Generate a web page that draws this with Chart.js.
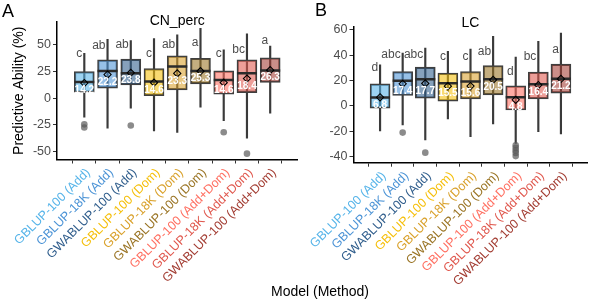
<!DOCTYPE html>
<html>
<head>
<meta charset="utf-8">
<script src="https://cdn.jsdelivr.net/npm/chart.js@4.4.0/dist/chart.umd.min.js"></script>
<style>
    body { margin: 0; background: #fff; font-family: "Liberation Sans", Arial, sans-serif; }
    #wrap { position: relative; width: 600px; height: 301px; overflow: hidden; }
    .pane { position: absolute; top: 0; height: 301px; }
    #xTitle { position: absolute; left: 220px; top: 284px; width: 200px; text-align: center;
              font-size: 14px; line-height: 14px; color: #000; white-space: nowrap; }
</style>
</head>
<body>
<div id="wrap">
    <div class="pane" style="left:0;width:310px"><canvas id="chartA"></canvas></div>
    <div class="pane" style="left:310px;width:290px"><canvas id="chartB"></canvas></div>
    <div id="xTitle">Model (Method)</div>
</div>
<script>
// 模型类别
const categories = ['GBLUP-100 (Add)', 'GBLUP-18K (Add)', 'GWABLUP-100 (Add)',
    'GBLUP-100 (Dom)', 'GBLUP-18K (Dom)', 'GWABLUP-100 (Dom)',
    'GBLUP-100 (Add+Dom)', 'GBLUP-18K (Add+Dom)', 'GWABLUP-100 (Add+Dom)'];
const labelColors = ['#56b4e9', '#4b93d6', '#2f5d8c', '#f5bf0a', '#d9a12b', '#9a7424',
    '#ff6f61', '#e0584e', '#a33d33'];

// A: CN_perc
const cnLow = [-17.8, -28, -9.4, -30.6, -32, -8.4, -21, -37.5, -14];
const cnQ1 = [5.6, 9.4, 12.5, 2.5, 7.8, 13.4, 3.8, 5.3, 14.7];
const cnMedian = [15.3, 25.6, 23.4, 15.6, 29.7, 25.6, 17.2, 23.4, 26];
const cnQ3 = [25, 36, 36.6, 27.8, 39.7, 37.5, 25.6, 36, 38];
const cnHigh = [42, 55.3, 54, 56, 59.4, 65.6, 45.3, 60.3, 49];
const cnMean = [14.2, 22.2, 23.8, 14.6, 23.3, 25.3, 14.6, 18.4, 26.3];
const cnLetters = ['c', 'ab', 'ab', 'c', 'ab', 'a', 'c', 'bc', 'a'];
const cnLetterY = [39, 45.9, 46.9, 39, 46.9, 49, 39, 42.2, 50.6];
const cnOutliers = [[1, -24.5], [1, -27.5], [3, -25.6], [7, -32], [8, -52]];
const cnTicks = [-50, -25, 0, 25, 50];

// B: LC
const lcLow = [-19.7, -15, -26.8, -10.3, -24.2, -14.2, -29.5, -20.3, -22];
const lcQ1 = [-1.8, 8.2, 6, 3.7, 5.5, 8.7, -3.2, 5.5, 10];
const lcMedian = [6.6, 19.7, 21, 17.9, 19.2, 21, 6.8, 17.1, 21.3];
const lcQ3 = [17.4, 27, 30.5, 25.8, 27, 31.8, 15.8, 26.6, 32.9];
const lcHigh = [32.4, 41.6, 45.5, 42.9, 44.7, 54.7, 38.4, 50.8, 57.3];
const lcMean = [6.8, 17.4, 17.7, 15.5, 15.6, 20.5, 4.8, 16.4, 21.2];
const lcLetters = ['d', 'abc', 'abc', 'c', 'c', 'ab', 'd', 'bc', 'a'];
const lcLetterY = [27.1, 37.6, 37.6, 35.8, 35.8, 40.3, 24.5, 36.3, 41.6];
const lcOutliers = [[2, -21], [3, -36.8], [7, -31], [7, -33], [7, -35], [7, -37], [7, -39.5]];
const lcTicks = [-40, -20, 0, 20, 40, 60];

const FONT = '"Liberation Sans", Arial, sans-serif';

function withAlpha(hex, a) {
    const n = parseInt(hex.slice(1), 16);
    return `rgba(${n >> 16}, ${(n >> 8) & 255}, ${n & 255}, ${a})`;
}

// 文字标注：均值、显著性字母、标题
const annotPlugin = {
    id: 'annot',
    afterDatasetsDraw(chart, args, opts) {
        const { ctx, chartArea } = chart;
        const x = chart.scales.x, y = chart.scales.y;
        ctx.save();
        ctx.font = `bold 10px ${FONT}`;
        ctx.fillStyle = '#fff';
        ctx.textAlign = 'center';
        ctx.textBaseline = 'middle';
        opts.means.forEach((m, i) => {
            ctx.fillText(m.toFixed(1), x.getPixelForValue(i + 1), y.getPixelForValue(m) + 7.5);
        });
        ctx.font = `12px ${FONT}`;
        ctx.fillStyle = '#4d4d4d';
        ctx.textAlign = 'right';
        ctx.textBaseline = 'alphabetic';
        opts.letters.forEach((t, i) => {
            ctx.fillText(t, x.getPixelForValue(i + 1) - 2, y.getPixelForValue(opts.letterY[i]));
        });
        ctx.fillStyle = '#000';
        ctx.textAlign = 'center';
        ctx.font = `14px ${FONT}`;
        ctx.fillText(opts.title, (chartArea.left + chartArea.right) / 2, opts.titleBase);
        ctx.textAlign = 'left';
        ctx.font = `18px ${FONT}`;
        ctx.fillText(opts.tag, opts.tagX, opts.tagBase);
        ctx.restore();
    }
};

function makeChart(id, d) {
    const idx = categories.map((c, i) => i + 1);
    const datasets = [
        {
            type: 'bar', label: 'whisker', order: 4, grouped: false,
            data: idx.map((v, i) => ({ x: v, y: [d.low[i], d.high[i]] })),
            backgroundColor: '#3a3a3a', barThickness: 1.5, borderWidth: 0
        },
        {
            type: 'bar', label: 'box', order: 3, grouped: false,
            data: idx.map((v, i) => ({ x: v, y: [d.q1[i], d.q3[i]] })),
            backgroundColor: labelColors.map(c => withAlpha(c, 0.58)),
            borderColor: '#3f3f3f', borderWidth: 1.5, borderSkipped: false, barThickness: 20
        },
        {
            type: 'scatter', label: 'median', order: 2,
            data: idx.map((v, i) => ({ x: v, y: d.median[i] })),
            pointStyle: 'line', pointRadius: 10, borderColor: '#2b2b2b', borderWidth: 2.5
        },
        {
            type: 'scatter', label: 'outlier', order: 2,
            data: d.outliers.map(o => ({ x: o[0], y: o[1] })),
            pointStyle: 'circle', pointRadius: 3.3, backgroundColor: 'rgba(90,90,90,0.7)', borderWidth: 0
        },
        {
            type: 'scatter', label: 'mean', order: 1,
            data: idx.map((v, i) => ({ x: v, y: d.mean[i] })),
            pointStyle: 'rectRot', pointRadius: 3.6, backgroundColor: 'rgba(0,0,0,0)',
            borderColor: '#000', borderWidth: 1.1
        }
    ];

    return new Chart(document.getElementById(id), {
        type: 'bar',
        data: { datasets },
        plugins: [annotPlugin],
        options: {
            responsive: true,
            maintainAspectRatio: false,
            animation: false,
            layout: { padding: d.padding },
            plugins: {
                legend: { display: false },
                tooltip: { enabled: false },
                annot: {
                    means: d.mean, letters: d.letters, letterY: d.letterY,
                    title: d.title, titleBase: d.titleBase, tag: d.tag, tagX: d.tagX, tagBase: d.tagBase
                }
            },
            scales: {
                x: {
                    type: 'linear', min: 0.4, max: 9.6,
                    afterBuildTicks: s => { s.ticks = idx.map(v => ({ value: v })); },
                    afterFit: s => { s.height = d.xHeight; s.paddingLeft = 0; s.paddingRight = 0; },
                    border: { display: true, color: '#000', width: 1.5 },
                    grid: { drawOnChartArea: false, drawTicks: true, tickLength: 4, color: '#333' },
                    ticks: {
                        autoSkip: false, minRotation: 45, maxRotation: 45, padding: 2, labelOffset: 4,
                        font: { family: FONT, size: 12.5 },
                        color: ctx => labelColors[ctx.index],
                        callback: (v, i) => categories[i]
                    }
                },
                y: {
                    min: d.yMin, max: d.yMax,
                    afterBuildTicks: s => { s.ticks = d.ticks.map(v => ({ value: v })); },
                    afterFit: s => { s.width = d.yWidth; s.paddingTop = 0; s.paddingBottom = 0; },
                    border: { display: true, color: '#000', width: 1.5 },
                    grid: { drawOnChartArea: false, drawTicks: true, tickLength: 4, color: '#333' },
                    ticks: { font: { family: FONT, size: 12.5 }, color: '#4d4d4d', padding: 2 },
                    title: {
                        display: !!d.yTitle, text: d.yTitle || '', color: '#000',
                        font: { family: FONT, size: 14 }, padding: { top: 11, bottom: 0 }
                    }
                }
            }
        }
    });
}

makeChart('chartA', {
    low: cnLow, q1: cnQ1, median: cnMedian, q3: cnQ3, high: cnHigh, mean: cnMean,
    letters: cnLetters, letterY: cnLetterY, outliers: cnOutliers, ticks: cnTicks,
    yMin: -57.5, yMax: 71.5, yWidth: 57, xHeight: 141.5,
    padding: { top: 22, right: 5, bottom: 0, left: 0 },
    yTitle: 'Predictive Ability (%)',
    title: 'CN_perc', titleBase: 25, tag: 'A', tagX: 2, tagBase: 16.5
});

makeChart('chartB', {
    low: lcLow, q1: lcQ1, median: lcMedian, q3: lcQ3, high: lcHigh, mean: lcMean,
    letters: lcLetters, letterY: lcLetterY, outliers: lcOutliers, ticks: lcTicks,
    yMin: -44.7, yMax: 62.1, yWidth: 43.5, xHeight: 138.3,
    padding: { top: 27, right: 2, bottom: 0, left: 0 },
    title: 'LC', titleBase: 26.5, tag: 'B', tagX: 5, tagBase: 15.5
});
</script>
</body>
</html>
